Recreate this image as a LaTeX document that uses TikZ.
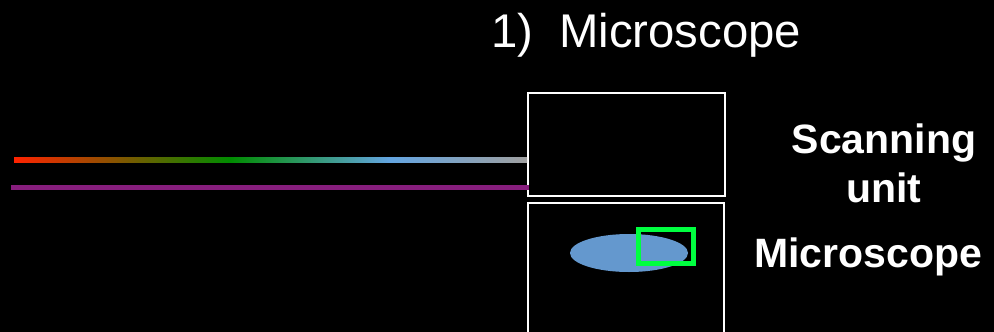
\documentclass[tikz,border=0pt]{standalone}
\usepackage{fontspec}
\setmainfont{Liberation Sans}
\usetikzlibrary{shapes.geometric}
\definecolor{cred}{RGB}{255,35,0}
\definecolor{cgreen}{RGB}{0,140,0}
\definecolor{cblue}{RGB}{100,165,225}
\definecolor{cgray}{RGB}{160,160,160}
\definecolor{cpurple}{RGB}{135,30,125}
\definecolor{cell}{RGB}{100,152,206}
\definecolor{roi}{RGB}{0,255,64}
\tikzset{
  panel/.style={draw=white, line width=2pt, inner sep=0pt, anchor=north west},
  title/.style={text=white, font=\fontsize{47.3}{52}\selectfont, anchor=base west, inner sep=0pt},
  lbl/.style={text=white, font=\bfseries\fontsize{41}{46}\selectfont, anchor=base, inner sep=0pt},
}
\begin{document}
\begin{tikzpicture}[x=1pt,y=-1pt]
\fill[black] (0,0) rectangle (994,332);
\useasboundingbox (0,0) rectangle (994,332);
% panels
\node[panel, minimum width=197pt, minimum height=103pt] (scan) at (527,92) {};
\node[panel, minimum width=196pt, minimum height=130pt] (micro) at (527,202) {};
% beams
\shade[left color=cred, right color=cgreen] (14,157.5) rectangle (230,162.5);
\shade[left color=cgreen, right color=cblue] (230,157.5) rectangle (390,162.5);
\shade[left color=cblue, right color=cgray] (390,157.5) rectangle (527,162.5);
\coordinate (pstart) at (11,187.5);
\draw[cpurple, line width=5pt] (pstart) -- (scan.west |- pstart) -- ++(2,0);
% specimen
\node[ellipse, fill=cell, minimum width=118pt, minimum height=38pt, inner sep=0pt] (cellnode) at (629,253) {};
\node[draw=roi, line width=5pt, minimum width=55pt, minimum height=34pt, inner sep=0pt, anchor=north west] (roibox) at (636,226.5) {};
% texts
\node[title] (t) at (491,47) {1)\hspace{26pt}Microscope};
\node[lbl] (s1) at (884,153) {Scanning};
\node[lbl] (s2) at (884,202) {unit};
\node[lbl] (m) at (868,267) {Microscope};
\end{tikzpicture}
\end{document}
